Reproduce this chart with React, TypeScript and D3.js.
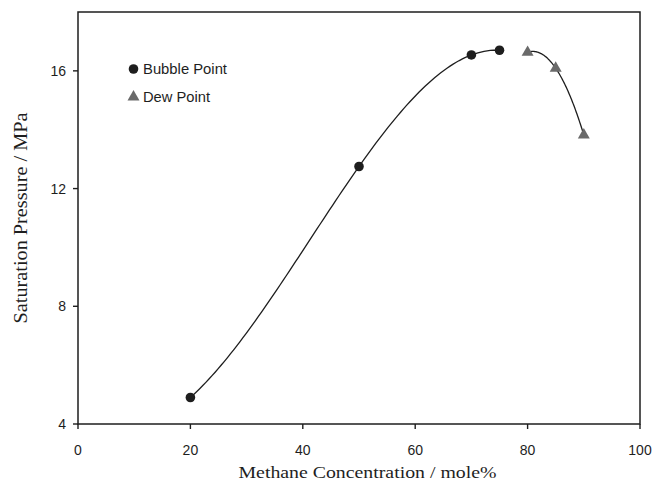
import React from "react";
import * as d3 from "d3";

const bubbleX = [20, 50, 70, 75];
const bubbleY = [4.9, 12.75, 16.54, 16.7];
const dewX = [80, 85, 90];
const dewY = [16.63, 16.09, 13.82];
const xTicks = [0, 20, 40, 60, 80, 100];
const yTicks = [4, 8, 12, 16];
const legendLabels = ["Bubble Point", "Dew Point"];

function lagrange(xs: number[], ys: number[]) {
  return (t: number) => {
    let s = 0;
    for (let i = 0; i < xs.length; i++) {
      let p = ys[i];
      for (let j = 0; j < xs.length; j++) {
        if (j !== i) p *= (t - xs[j]) / (xs[i] - xs[j]);
      }
      s += p;
    }
    return s;
  };
}

export default function App() {
  const W = 654, H = 483;
  const L = 78, R = 640, T = 12, B = 424;
  const x = d3.scaleLinear().domain([0, 100]).range([L, R]);
  const y = d3.scaleLinear().domain([4, 18]).range([B, T]);
  const line = d3.line<[number, number]>().x(d => x(d[0])).y(d => y(d[1]));
  const fitPath = (xs: number[], ys: number[]) => {
    const f = lagrange(xs, ys);
    const x0 = d3.min(xs) as number, x1 = d3.max(xs) as number;
    const pts: [number, number][] = d3.range(0, 101).map(k => {
      const t = x0 + ((x1 - x0) * k) / 100;
      return [t, f(t)];
    });
    return line(pts) || "";
  };
  const bubble = bubbleX.map((v, i) => [v, bubbleY[i]] as [number, number]);
  const dew = dewX.map((v, i) => [v, dewY[i]] as [number, number]);
  const tri = d3.symbol().type(d3.symbolTriangle).size(62)();
  const sans = "Liberation Sans, Arial, sans-serif";
  const serif = "Liberation Serif, Times New Roman, serif";
  const ink = "#1e1e1e";
  const grey = "#6a6a6a";
  return (
    <svg width={W} height={H} style={{ position: "absolute", left: 0, top: 0 }}>
      <rect x={0} y={0} width={W} height={H} fill="#fff" />
      <rect x={L} y={T} width={R - L} height={B - T} fill="none" stroke={ink} strokeWidth={1.5} />
      {xTicks.map(t => (
        <g key={"x" + t}>
          <line x1={x(t)} x2={x(t)} y1={B} y2={B + 5} stroke={ink} strokeWidth={1.4} />
          <text x={x(t)} y={455} textAnchor="middle" fontFamily={sans} fontSize={14} fill={ink}>{t}</text>
        </g>
      ))}
      {yTicks.map(t => (
        <g key={"y" + t}>
          <line x1={L - 5} x2={L} y1={y(t)} y2={y(t)} stroke={ink} strokeWidth={1.4} />
          <text x={L - 12} y={y(t) + 5} textAnchor="end" fontFamily={sans} fontSize={14} fill={ink}>{t}</text>
        </g>
      ))}
      <text x={367.5} y={478} textAnchor="middle" fontFamily={serif} fontSize={17.5} fill={ink}
        textLength={258} lengthAdjust="spacingAndGlyphs">Methane Concentration / mole%</text>
      <text transform={`translate(27,218) rotate(-90)`} textAnchor="middle" fontFamily={serif} fontSize={18.5} fill={ink}
        textLength={211} lengthAdjust="spacingAndGlyphs">Saturation Pressure / MPa</text>
      <path d={fitPath(bubbleX, bubbleY)} fill="none" stroke={ink} strokeWidth={1.3} />
      <path d={fitPath(dewX, dewY)} fill="none" stroke={ink} strokeWidth={1.3} />
      {bubble.map((d, i) => (
        <circle key={"b" + i} cx={x(d[0])} cy={y(d[1])} r={4.8} fill={ink} />
      ))}
      {dew.map((d, i) => (
        <path key={"d" + i} d={tri || ""} transform={`translate(${x(d[0])},${y(d[1])})`} fill={grey} />
      ))}
      <circle cx={133.5} cy={69} r={4.8} fill={ink} />
      <text x={143} y={74} fontFamily={sans} fontSize={14} fill={ink} textLength={84} lengthAdjust="spacingAndGlyphs">{legendLabels[0]}</text>
      <path d={tri || ""} transform="translate(133.5,97)" fill={grey} />
      <text x={143} y={101.5} fontFamily={sans} fontSize={14} fill={ink} textLength={67} lengthAdjust="spacingAndGlyphs">{legendLabels[1]}</text>
    </svg>
  );
}
